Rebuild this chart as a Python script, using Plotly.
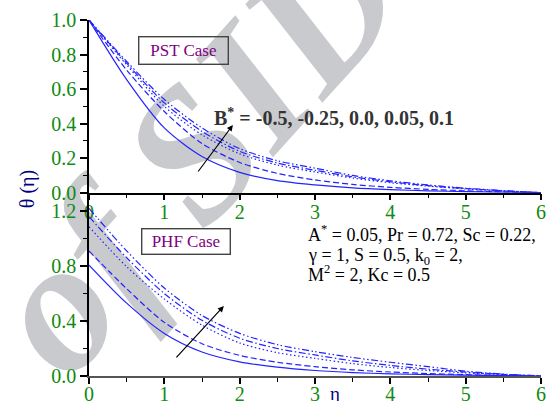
import plotly.graph_objects as go

# similarity variable
eta = [0, 0.5, 1.0, 1.5, 2.0, 2.5, 3.0, 3.5, 4.0, 4.5, 5.0, 5.5, 6.0]
b_star = ["-0.5", "-0.25", "0.0", "0.05", "0.1"]

# theta(eta), prescribed surface temperature (PST)
pst_b1 = [1.0, 0.655, 0.375, 0.21, 0.118, 0.07, 0.045, 0.028, 0.018, 0.011, 0.006, 0.003, 0.0]
pst_b2 = [1.0, 0.71, 0.47, 0.285, 0.175, 0.112, 0.074, 0.048, 0.031, 0.019, 0.011, 0.005, 0.0]
pst_b3 = [1.0, 0.74, 0.50, 0.335, 0.225, 0.16, 0.12, 0.085, 0.058, 0.038, 0.022, 0.01, 0.0]
pst_b4 = [1.0, 0.75, 0.52, 0.355, 0.24, 0.172, 0.13, 0.092, 0.063, 0.041, 0.024, 0.011, 0.0]
pst_b5 = [1.0, 0.76, 0.54, 0.375, 0.255, 0.185, 0.142, 0.10, 0.069, 0.045, 0.026, 0.012, 0.0]

# theta(eta), prescribed heat flux (PHF)
phf_b1 = [0.807, 0.53, 0.31, 0.175, 0.103, 0.064, 0.040, 0.025, 0.016, 0.010, 0.006, 0.003, 0.0]
phf_b2 = [0.909, 0.635, 0.39, 0.235, 0.15, 0.10, 0.068, 0.045, 0.029, 0.018, 0.010, 0.004, 0.0]
phf_b3 = [1.086, 0.795, 0.56, 0.37, 0.24, 0.17, 0.128, 0.09, 0.062, 0.04, 0.023, 0.01, 0.0]
phf_b4 = [1.159, 0.86, 0.60, 0.405, 0.275, 0.20, 0.153, 0.11, 0.077, 0.05, 0.028, 0.012, 0.0]
phf_b5 = [1.219, 0.91, 0.64, 0.44, 0.31, 0.228, 0.177, 0.135, 0.10, 0.068, 0.035, 0.014, 0.0]

pst_series = [pst_b1, pst_b2, pst_b3, pst_b4, pst_b5]
phf_series = [phf_b1, phf_b2, phf_b3, phf_b4, phf_b5]
dashes = ["solid", "6px,3px", "1.5px,2.5px", "7px,2.5px,1.5px,2.5px",
          "7px,2.5px,1.5px,2.5px,1.5px,2.5px"]

BLUE = "#2323ff"
GREEN = "#108a10"
SERIF = "Liberation Serif"

fig = go.Figure()
for vals, dash, b in zip(pst_series, dashes, b_star):
    fig.add_trace(go.Scatter(x=eta, y=vals, xaxis="x", yaxis="y", mode="lines",
                             name="B* = " + b, showlegend=False,
                             line=dict(color=BLUE, width=1.2, dash=dash,
                                       shape="spline", smoothing=0.8)))
for vals, dash, b in zip(phf_series, dashes, b_star):
    fig.add_trace(go.Scatter(x=eta, y=vals, xaxis="x2", yaxis="y2", mode="lines",
                             name="B* = " + b, showlegend=False,
                             line=dict(color=BLUE, width=1.2, dash=dash,
                                       shape="spline", smoothing=0.8)))

tickfont = dict(family=SERIF, size=20, color=GREEN)


def x_axis(anchor, linecolor, standoff):
    return dict(anchor=anchor, domain=[0, 1], range=[0, 6], tick0=0, dtick=1,
                automargin=False, ticklabelstandoff=standoff,
                ticks="outside", ticklen=6, tickwidth=1.5, tickcolor="black",
                showline=True, linecolor=linecolor, linewidth=1.6,
                showgrid=False, zeroline=False, tickfont=tickfont,
                minor=dict(dtick=0.5, ticks="outside", ticklen=4,
                           tickwidth=1, tickcolor="black"))


def y_axis(anchor, domain, rng, dtick, minor):
    return dict(anchor=anchor, domain=domain, range=rng, tick0=0, dtick=dtick,
                automargin=False,
                tickformat=".1f", ticks="outside", ticklen=7, tickwidth=1.5,
                tickcolor="black", showline=True, linecolor="black",
                linewidth=1.6, showgrid=False, zeroline=False, tickfont=tickfont,
                minor=dict(dtick=minor, ticks="outside", ticklen=4,
                           tickwidth=1, tickcolor="black"))


label_font = dict(family=SERIF, size=18, color="black")


def note(text, x, y, font, **kw):
    d = dict(text=text, xref="paper", yref="paper", x=x, y=y,
             xanchor=kw.pop("xanchor", "center"), yanchor="middle",
             showarrow=False, font=font)
    d.update(kw)
    return d


case_font = dict(family=SERIF, size=17, color="#800080")
annotations = [
    note("PST Case", 0.2080, 0.9157, case_font, width=86, height=24,
         borderpad=1, borderwidth=1.4, bordercolor="#444444"),
    note("PHF Case", 0.2157, 0.3778, case_font, width=85, height=22,
         borderpad=1, borderwidth=1.4, bordercolor="#444444"),
    note("<b>B<sup>*</sup> = -0.5, -0.25, 0.0, 0.05, 0.1</b>", 0.272, 0.7275,
         dict(family=SERIF, size=20, color="#333333"), xanchor="left"),
    note("A<sup>*</sup> = 0.05, Pr = 0.72, Sc = 0.22,", 0.480, 0.4016,
         label_font, xanchor="left"),
    note("\u03b3 = 1, S = 0.5, k<sub>0</sub> = 2,", 0.480, 0.3370,
         label_font, xanchor="left"),
    note("M<sup>2</sup> = 2, Kc = 0.5", 0.480, 0.2887,
         label_font, xanchor="left"),
    note("\u03b8 (\u03b7)", -0.137, 0.525,
         dict(family=SERIF, size=20, color="#000080"), textangle=-90),
    note("\u03b7", 0.544, -0.048, dict(family=SERIF, size=19, color="#000080")),
    # arrows in the direction of increasing B*
    dict(text="", xref="x", yref="y", axref="x", ayref="y",
         x=1.91, y=0.392, ax=1.434, ay=0.114, showarrow=True,
         arrowhead=2, arrowsize=1, arrowwidth=1.2, arrowcolor="black"),
    dict(text="", xref="x2", yref="y2", axref="x2", ayref="y2",
         x=1.79, y=0.509, ax=1.142, ay=0.124, showarrow=True,
         arrowhead=2, arrowsize=1, arrowwidth=1.2, arrowcolor="black"),
]

# faint background lettering, kept beneath the curves and axes
watermark = dict(type="rect", xref="paper", yref="paper",
                 x0=0.190, x1=0.208, y0=0.664, y1=0.678, layer="below",
                 line=dict(width=0), fillcolor="rgba(0,0,0,0)",
                 label=dict(text="of SID", textangle=-48,
                            textposition="middle center",
                            font=dict(family=SERIF, size=188, color="#c9cacd",
                                      style="italic", weight="bold")))

fig.update_layout(
    width=548, height=401,
    margin=dict(l=89, r=7, t=20, b=25, autoexpand=False),
    paper_bgcolor="white", plot_bgcolor="rgba(0,0,0,0)",
    xaxis=x_axis("y", "black", -5),
    yaxis=y_axis("x", [0.5149, 1.0], [0, 1.0], 0.2, 0.1),
    xaxis2=x_axis("y2", "#555555", -7),
    yaxis2=y_axis("x2", [0.0, 0.514], [0, 1.331], 0.4, 0.2),
    annotations=annotations,
    shapes=[watermark],
)

fig.write_html("out.html")
